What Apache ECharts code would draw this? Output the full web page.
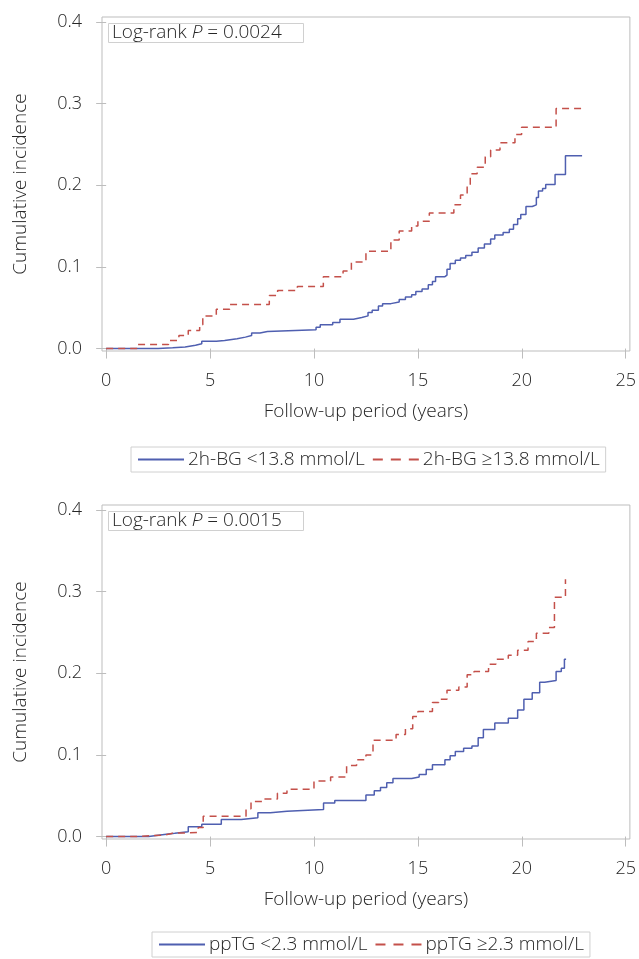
<!DOCTYPE html>
<html>
<head>
<meta charset="utf-8">
<script src="https://cdn.jsdelivr.net/npm/echarts@6/dist/echarts.min.js"></script>
<style>
  html, body { margin: 0; padding: 0; background: #fff; }
  #main { width: 639px; height: 959px; }
</style>
</head>
<body>
<div id="main"></div>
<script>
// tick values
var xTicks = [0, 5, 10, 15, 20, 25];
var yTicks = [0, 0.1, 0.2, 0.3, 0.4];

// cumulative incidence, [years, value] at each step
var bgLow = [[0,0],[2.5,0.001],[3.2,0.002],[3.8,0.004],[4.3,0.006],[4.6,0.009],[5.3,0.010],[5.7,0.012],
  [6.3,0.014],[6.7,0.016],[7.0,0.019],[7.4,0.021],[7.76,0.023],[10.1,0.026],[10.3,0.029],[10.9,0.032],
  [11.25,0.036],[11.9,0.038],[12.3,0.040],[12.6,0.044],[12.8,0.047],[13.1,0.052],[13.3,0.055],[13.7,0.057],
  [14.1,0.060],[14.4,0.063],[14.7,0.066],[14.9,0.070],[15.2,0.073],[15.5,0.078],[15.7,0.082],[15.85,0.088],
  [16.3,0.090],[16.4,0.097],[16.55,0.104],[16.8,0.108],[17.05,0.111],[17.3,0.114],[17.6,0.118],[17.9,0.123],
  [18.2,0.128],[18.5,0.134],[18.7,0.139],[19.1,0.142],[19.4,0.146],[19.6,0.152],[19.8,0.159],[19.95,0.164],
  [20.2,0.174],[20.5,0.176],[20.7,0.185],[20.8,0.193],[21.0,0.196],[21.15,0.201],[21.6,0.213],[22.1,0.236],
  [22.9,0.236]];
var bgHigh = [[0,0],[1.5,0.005],[3.0,0.010],[3.5,0.016],[3.95,0.022],[4.5,0.029],[4.65,0.040],[5.3,0.048],
  [5.95,0.054],[7.85,0.065],[8.25,0.071],[9.2,0.076],[10.45,0.088],[11.4,0.095],[11.8,0.106],[12.5,0.119],
  [13.7,0.133],[14.1,0.144],[14.7,0.150],[15.0,0.156],[15.55,0.166],[16.73,0.176],[17.05,0.188],[17.37,0.199],
  [17.52,0.214],[17.85,0.222],[18.24,0.235],[18.5,0.243],[18.95,0.252],[19.67,0.262],[19.99,0.271],
  [21.65,0.294],[22.86,0.294]];
var tgLow = [[0,0],[2.05,0.002],[2.6,0.004],[3.3,0.006],[3.95,0.012],[4.6,0.015],[5.54,0.021],[6.5,0.023],
  [7.3,0.029],[7.9,0.031],[8.7,0.033],[10.46,0.041],[11.0,0.044],[12.5,0.051],[12.9,0.056],[13.2,0.060],
  [13.5,0.066],[13.8,0.071],[14.7,0.073],[15.06,0.076],[15.4,0.082],[15.7,0.088],[16.3,0.094],[16.55,0.099],
  [16.8,0.104],[17.2,0.108],[17.6,0.111],[17.9,0.121],[18.15,0.131],[18.7,0.139],[19.35,0.145],[19.8,0.155],
  [20.1,0.168],[20.5,0.176],[20.86,0.189],[21.1,0.191],[21.65,0.202],[21.9,0.206],[22.05,0.217],[22.13,0.217]];
var tgHigh = [[0,0],[1.4,0.002],[2.84,0.004],[3.2,0.005],[4.43,0.011],[4.67,0.025],[6.73,0.034],[6.97,0.043],
  [7.6,0.046],[8.24,0.053],[8.7,0.058],[10.0,0.068],[10.8,0.073],[11.57,0.087],[12.05,0.094],[12.5,0.100],
  [12.84,0.118],[13.95,0.125],[14.4,0.132],[14.75,0.147],[15.0,0.153],[15.7,0.164],[16.0,0.168],[16.4,0.179],
  [16.97,0.183],[17.37,0.198],[17.7,0.202],[18.4,0.211],[18.75,0.217],[19.35,0.222],[19.8,0.228],[20.3,0.239],
  [20.7,0.249],[21.3,0.256],[21.57,0.293],[22.1,0.315],[22.13,0.315]];

var names = ['2h-BG <13.8 mmol/L', '2h-BG \u226513.8 mmol/L', 'ppTG <2.3 mmol/L', 'ppTG \u22652.3 mmol/L'];
var pValues = ['0.0024', '0.0015'];

var font = '"Open Sans", "Noto Sans", sans-serif';
var txt = '#262626';
var frame = '#bdbdbd';
var blue = '#4f5fb0';
var red = '#c4504a';

var myChart = echarts.init(document.getElementById('main'));

function xAx(i) {
  return {
    gridIndex: i, type: 'value', min: -0.2, max: 25.2,
    name: 'Follow-up period (years)', nameLocation: 'middle', nameGap: 51,
    nameTextStyle: { color: txt, fontSize: 19, fontFamily: font, fontWeight: 300 },
    axisLine: { show: false },
    splitLine: { show: false },
    axisTick: { show: true, length: 10, customValues: xTicks, lineStyle: { color: frame } },
    axisLabel: { customValues: xTicks, margin: 21, color: txt, fontSize: 18, fontFamily: font, fontWeight: 300 }
  };
}
function yAx(i) {
  return {
    gridIndex: i, type: 'value', min: -0.003, max: 0.406,
    name: 'Cumulative incidence', nameLocation: 'middle', nameGap: 72,
    nameTextStyle: { color: txt, fontSize: 19, fontFamily: font, fontWeight: 300 },
    axisLine: { show: false },
    splitLine: { show: false },
    axisTick: { show: true, length: 10, customValues: yTicks, lineStyle: { color: frame } },
    axisLabel: { customValues: yTicks, margin: 20, color: txt, fontSize: 18, fontFamily: font, fontWeight: 300,
      formatter: function (v) { return v.toFixed(1); } }
  };
}
function line(name, data, i, color, dashed) {
  return {
    name: name, type: 'line', xAxisIndex: i, yAxisIndex: i, data: data,
    step: 'end', showSymbol: false, symbol: 'none', silent: true, animation: false,
    lineStyle: { color: color, width: 1.5, type: dashed ? [7, 5] : 'solid' },
    itemStyle: { color: color }
  };
}
function pTitle(i, top) {
  return {
    text: '{a|Log-rank }{i|P}{a| = ' + pValues[i] + '}',
    left: 108, top: top, padding: [0, 22, 0, 4],
    borderColor: '#d0d0d0', borderWidth: 1,
    textStyle: { rich: {
      a: { color: txt, fontSize: 19, fontFamily: font, fontWeight: 300, lineHeight: 22 },
      i: { color: txt, fontSize: 19, fontFamily: font, fontWeight: 300, fontStyle: 'italic', lineHeight: 22 }
    } }
  };
}
function leg(i, left, top) {
  return {
    data: [
      { name: names[i * 2] },
      { name: names[i * 2 + 1], lineStyle: { type: [10, 8] } }
    ],
    left: left, top: top, orient: 'horizontal',
    padding: [3, 6], itemGap: 7, itemWidth: 46, itemHeight: 10,
    borderColor: '#d0d0d0', borderWidth: 1, selectedMode: false,
    itemStyle: { opacity: 0 },
    textStyle: { color: txt, fontSize: 19, fontFamily: font, fontWeight: 300, padding: [0, 0, 0, -1] }
  };
}

myChart.setOption({
  backgroundColor: '#fff',
  animation: false,
  title: [pTitle(0, 22), pTitle(1, 510)],
  legend: [leg(0, 131, 447), leg(1, 152, 932)],
  grid: [
    { left: 102, top: 17, width: 534, height: 334, show: true, borderColor: frame, borderWidth: 1, backgroundColor: 'transparent' },
    { left: 102, top: 505, width: 534, height: 334, show: true, borderColor: frame, borderWidth: 1, backgroundColor: 'transparent' }
  ],
  xAxis: [xAx(0), xAx(1)],
  yAxis: [yAx(0), yAx(1)],
  series: [
    line(names[0], bgLow, 0, blue, false),
    line(names[1], bgHigh, 0, red, true),
    line(names[2], tgLow, 1, blue, false),
    line(names[3], tgHigh, 1, red, true)
  ]
});
</script>
</body>
</html>
